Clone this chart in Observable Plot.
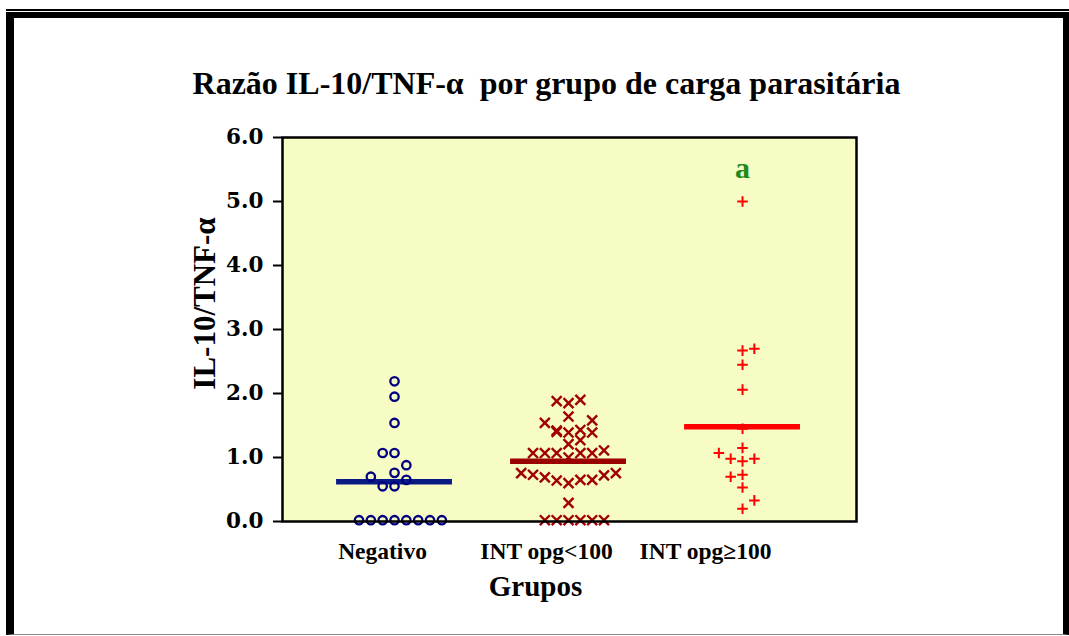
<!DOCTYPE html>
<html>
<head>
<meta charset="utf-8">
<script src="https://cdn.jsdelivr.net/npm/d3@7"></script>
<script src="https://cdn.jsdelivr.net/npm/@observablehq/plot@0.6"></script>
<style>
  html, body { margin: 0; padding: 0; background: #fff; }
  body { width: 1069px; height: 636px; overflow: hidden; position: relative; font-family: "Liberation Serif", "Times New Roman", serif; }
  #topline { position: absolute; left: 6px; top: 9px; width: 1063px; height: 1.5px; background: #000; }
  #frame { position: absolute; left: 6px; top: 12px; width: 1049px; height: 616px;
           border-left: 8px solid #000; border-right: 6px solid #000; border-top: 6px solid #000; border-bottom: 1px solid #888; }
  #title { position: absolute; left: 12px; top: 67px; width: 1069px; text-align: center;
           font-size: 32px; line-height: 32px; font-weight: bold; color: #000; white-space: pre; }
  #chart { position: absolute; left: 0; top: 120px; }
</style>
</head>
<body>
<div id="topline"></div>
<div id="frame"></div>
<div id="title">Razão IL-10/TNF-α  por grupo de carga parasitária</div>
<div id="chart"></div>
<script>
// ---- Data ----
const groups = ["Negativo", "INT opg<100", "INT opg≥100"];
const yTicks = [0, 1, 2, 3, 4, 5, 6];

// Negativo: values and swarm slot (column index within the swarm)
const negValues = [2.19, 1.95, 1.54, 1.07, 1.07, 0.88, 0.76, 0.70, 0.55, 0.55, 0.65, 0.02, 0.02, 0.02, 0.02, 0.02, 0.02, 0.02, 0.02];
const negSlots  = [0, 0, 0, -1, 0, 1, 0, -2, -1, 0, 1, -3, -2, -1, 0, 1, 2, 3, 4];

// INT opg<100
const lowValues = [1.88, 1.85, 1.90, 1.64, 1.54, 1.58, 1.42, 1.40, 1.39, 1.43, 1.39, 1.21, 1.27,
                   1.07, 1.07, 1.07, 1.00, 1.07, 1.07, 1.11,
                   0.755, 0.73, 0.69, 0.64, 0.60, 0.65, 0.65, 0.72, 0.755,
                   0.29, 0.02, 0.02, 0.02, 0.02, 0.02, 0.02];
const lowSlots  = [-1, 0, 1, 0, -2, 2, -1, -1, 0, 1, 2, 0, 1,
                   -3, -2, -1, 0, 1, 2, 3,
                   -4, -3, -2, -1, 0, 1, 2, 3, 4,
                   0, -2, -1, 0, 1, 2, 3];

// INT opg>=100
const highValues = [5.00, 2.67, 2.70, 2.45, 2.06, 1.45, 1.15, 1.07, 0.98, 0.94, 0.98, 0.70, 0.73, 0.53, 0.33, 0.20];
const highSlots  = [0, 0, 1, 0, 0, 0, 0, -2, -1, 0, 1, -1, 0, 0, 1, 0];

// Group means (horizontal bars)
const groupMeans = [0.62, 0.94, 1.48];
const annotations = ["", "", "a"];

// ---- Build tables ----
const slotW = 0.068;   // width of one swarm column in x units
const halfBar = 0.333;
function table(values, slots, g) {
  return values.map((v, i) => ({g, x: g + 1 + slots[i] * slotW, v}));
}
const negData = table(negValues, negSlots, 0);
const lowData = table(lowValues, lowSlots, 1);
const highData = table(highValues, highSlots, 2);
const meanData = groupMeans.map((m, i) => ({g: i, m}));
const annData = annotations.map((a, i) => ({g: i, a, top: d3.max([negValues, lowValues, highValues][i])})).filter(d => d.a);

const serif = "'Liberation Serif', 'Times New Roman', serif";
const labelShift = [-12, -22, -37];

const chart = Plot.plot({
  width: 1069,
  height: 516,
  marginLeft: 282,
  marginRight: 213,
  marginTop: 17,
  marginBottom: 115,
  style: {background: "transparent", fontFamily: serif, color: "#000", overflow: "visible"},
  x: {type: "linear", domain: [0.3563, 3.655]},
  y: {domain: [0, 6]},
  marks: [
    Plot.frame({fill: "#f7fbc4", stroke: null}),
    Plot.axisY({ticks: yTicks, tickFormat: d => d.toFixed(1), tickSize: 9, tickPadding: 10, strokeWidth: 2,
                fontSize: 21.5, fontWeight: "bold", fontFamily: "'DejaVu Serif', serif", label: null}),
    ...groups.map((g, i) => Plot.axisX({ticks: [i + 1], tickFormat: () => g, tickSize: 0, tickPadding: 21, dx: labelShift[i],
                fontSize: 23.5, fontWeight: "bold", fontFamily: serif, label: null})),
    Plot.text(["Grupos"], {frameAnchor: "bottom", dx: -34, dy: 65, lineAnchor: "middle", fontSize: 29, fontWeight: "bold", fontFamily: serif, fill: "#000"}),
    Plot.text(["IL-10/TNF-α"], {frameAnchor: "left", textAnchor: "middle", dx: -77, dy: -26, rotate: -90, fontSize: 31, fontWeight: "bold", fontFamily: serif, fill: "#000"}),
    Plot.ruleY(meanData, {y: "m", x1: d => d.g + 1 - halfBar, x2: d => d.g + 1 + halfBar,
                          stroke: d => ["#0a1a85", "#9a0000", "#ff0000"][d.g], strokeWidth: 5.5}),
    Plot.dot(negData, {x: "x", y: "v", r: 4.2, stroke: "#000080", strokeWidth: 2.3, fill: "none"}),
    Plot.dot(lowData, {x: "x", y: "v", symbol: "times", r: 4.6, stroke: "#a00000", strokeWidth: 2.4}),
    Plot.dot(highData, {x: "x", y: "v", symbol: "plus", r: 3.5, stroke: "#ff0000", strokeWidth: 2}),
    Plot.text(annData, {x: d => d.g + 1, y: "top", text: "a", dy: -33, fontSize: 30, fontWeight: "bold", fontFamily: serif, fill: "#1c8a1c"}),
    Plot.frame({stroke: "#000", strokeWidth: 2.5})
  ]
});
document.getElementById("chart").appendChild(chart);
</script>
</body>
</html>
